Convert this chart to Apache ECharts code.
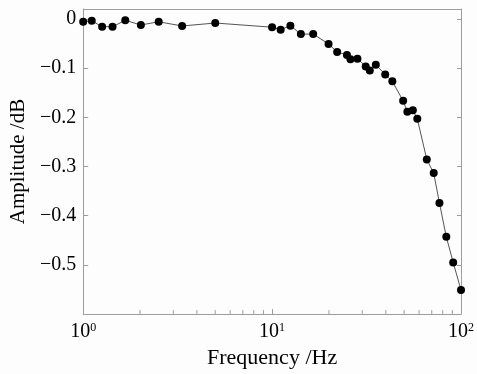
<!DOCTYPE html>
<html>
<head>
<meta charset="utf-8">
<script src="https://cdn.jsdelivr.net/npm/echarts@6/dist/echarts.min.js"></script>
<style>
html,body{margin:0;padding:0;background:#fdfdfd;}
#c{width:477px;height:374px;}
</style>
</head>
<body>
<div id="c"></div>
<script>
const frequencies = [1.0, 1.11, 1.26, 1.43, 1.67, 2.02, 2.51, 3.34, 5.0, 10.0, 11.1, 12.5, 14.2, 16.5, 19.9, 22.1, 24.9, 26.0, 28.3, 31.3, 32.9, 35.4, 39.7, 43.3, 49.4, 52.0, 55.6, 58.7, 65.9, 71.7, 76.9, 83.6, 90.9, 100.0];
const amplitudes = [-0.006, -0.004, -0.016, -0.016, -0.003, -0.0125, -0.006, -0.0145, -0.0085, -0.017, -0.022, -0.014, -0.031, -0.031, -0.051, -0.0675, -0.0734, -0.082, -0.081, -0.0966, -0.105, -0.0933, -0.113, -0.127, -0.1667, -0.189, -0.186, -0.203, -0.2857, -0.3135, -0.374, -0.443, -0.495, -0.551];
const minorTickValues = [2, 3, 4, 5, 6, 7, 8, 9, 20, 30, 40, 50, 60, 70, 80, 90];
const xName = 'Frequency /Hz';
const yName = 'Amplitude /dB';

const font = 'Liberation Serif';
const axisGrey = '#a09c9c';
const textColor = '#000';
const yMin = -0.6, yMax = 0.02;

const chart = echarts.init(document.getElementById('c'), null, {renderer: 'canvas'});
chart.setOption({
  backgroundColor: '#fdfdfd',
  animation: false,
  grid: {left: 77, right: 13, top: 9, bottom: 56},
  xAxis: [{
    type: 'log', logBase: 10, min: 1, max: 100, interval: 1,
    name: xName, nameLocation: 'middle', nameGap: 29,
    nameTextStyle: {fontFamily: font, fontSize: 22, color: textColor},
    axisLine: {onZero: false, lineStyle: {color: axisGrey, width: 1}},
    axisTick: {inside: true, length: 5, lineStyle: {color: axisGrey}},
    splitLine: {show: false},
    axisLabel: {
      margin: 8, color: textColor,
      formatter: function (v) { return '{b|10}{s|' + Math.round(Math.log10(v)) + '}'; },
      rich: {
        b: {fontFamily: font, fontSize: 20, color: textColor},
        s: {fontFamily: font, fontSize: 12, color: textColor, padding: [0, 0, 8, 0]}
      }
    }
  }, {
    type: 'log', logBase: 10, min: 1, max: 100, position: 'top',
    axisLine: {show: true, onZero: false, lineStyle: {color: axisGrey}},
    axisTick: {show: false}, axisLabel: {show: false}, splitLine: {show: false}
  }],
  yAxis: [{
    type: 'value', min: yMin, max: yMax, interval: 0.1,
    name: yName, nameLocation: 'middle', nameGap: 54,
    nameTextStyle: {fontFamily: font, fontSize: 21, color: textColor},
    axisLine: {show: true, onZero: false, lineStyle: {color: axisGrey, width: 1}},
    axisTick: {inside: true, length: 5, lineStyle: {color: axisGrey}},
    splitLine: {show: false},
    axisLabel: {
      margin: 7, fontFamily: font, fontSize: 20, color: textColor,
      formatter: function (v) {
        if (Math.abs(v) < 1e-9) return '0';
        if (v > 0 || v < -0.55) return '';
        return '\u2212' + Math.abs(v).toFixed(1);
      }
    }
  }, {
    type: 'value', min: yMin, max: yMax, interval: 0.1, position: 'right',
    axisLine: {show: true, onZero: false, lineStyle: {color: axisGrey, width: 1}},
    axisTick: {inside: true, length: 4, lineStyle: {color: axisGrey}},
    axisLabel: {show: false}, splitLine: {show: false}
  }],
  series: [{
    type: 'custom',
    silent: true,
    clip: false,
    data: minorTickValues.map(v => [v, yMin]),
    renderItem: function (params, api) {
      const p = api.coord([api.value(0), api.value(1)]);
      return {type: 'line', shape: {x1: p[0], y1: p[1], x2: p[0], y2: p[1] - 4}, style: {stroke: axisGrey, lineWidth: 1}};
    }
  }, {
    type: 'line',
    data: frequencies.map((f, i) => [f, amplitudes[i]]),
    symbol: 'circle', symbolSize: 8,
    itemStyle: {color: '#000'},
    lineStyle: {color: '#555', width: 1}
  }]
});
</script>
</body>
</html>
